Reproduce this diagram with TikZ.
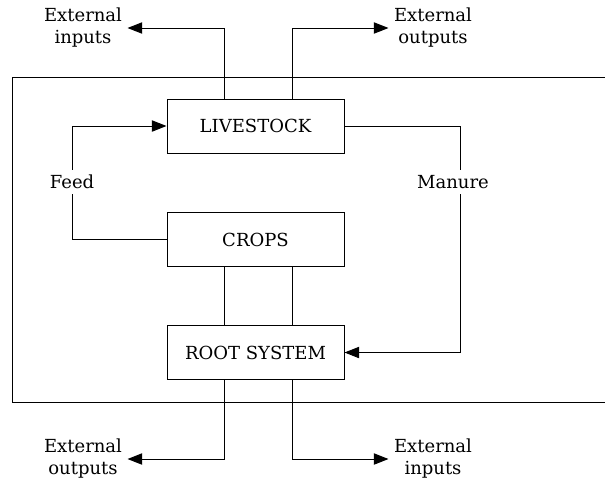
\documentclass[tikz,border=0pt]{standalone}
\usepackage{fontspec}
\setmainfont{DejaVu Serif}
\usetikzlibrary{arrows.meta}

\begin{document}
\begin{tikzpicture}[x = 0.75pt, y = -0.75pt,
        box/.style = {draw, line width = 0.75pt, minimum width = 132.75pt, minimum height = 40.5pt, inner sep = 0pt, font = \fontsize{13.5}{16.5}\selectfont},
        lbl/.style = {align = center, inner xsep = 4pt, inner ysep = 1pt, font = \fontsize{13.5}{16.5}\selectfont},
        flow/.style = {line width = 0.75pt, -{Triangle[length = 11pt, width = 8.5pt]}}]
        \clip (0, 0) rectangle (605, 480);
        \draw[line width = 0.75pt] (12, 77) rectangle (640, 402);
        \node[box] (live) at (255.5, 126) {LIVESTOCK};
        \node[box] (crops) at (255.5, 239.5) {CROPS};
        \node[box] (root) at (255.5, 352.5) {ROOT SYSTEM};
        \node[lbl] (extin1) at (83, 28) {External\\inputs};
        \node[lbl] (extout1) at (433, 28) {External\\outputs};
        \node[lbl] (extout2) at (83, 459) {External\\outputs};
        \node[lbl] (extin2) at (433, 459) {External\\inputs};
        \coordinate (feedx) at (72, 0);
        \coordinate (manx) at (460, 0);
        \draw[flow] ([xshift = -23.625pt]live.north) |- (extin1.east);
        \draw[flow] ([xshift = 27.375pt]live.north) |- (extout1.west);
        \draw[flow] ([xshift = -23.625pt]root.south) |- (extout2.east);
        \draw[flow] ([xshift = 27.375pt]root.south) |- (extin2.west);
        \draw[line width = 0.75pt] ([xshift = -23.625pt]crops.south) -- ([xshift = -23.625pt]root.north);
        \draw[line width = 0.75pt] ([xshift = 27.375pt]crops.south) -- ([xshift = 27.375pt]root.north);
        \draw[flow] (crops.west) -| (feedx |- live.west) -- (live.west);
        \draw[flow] (live.east) -| (manx |- root.east) -- (root.east);
        \node[lbl, fill = white, inner ysep = 4pt, inner xsep = 1pt] (feed) at (72, 182) {Feed};
        \node[lbl, fill = white, inner ysep = 4pt, inner xsep = 1pt] (manure) at (453, 182) {Manure};
    \end{tikzpicture}
\end{document}
